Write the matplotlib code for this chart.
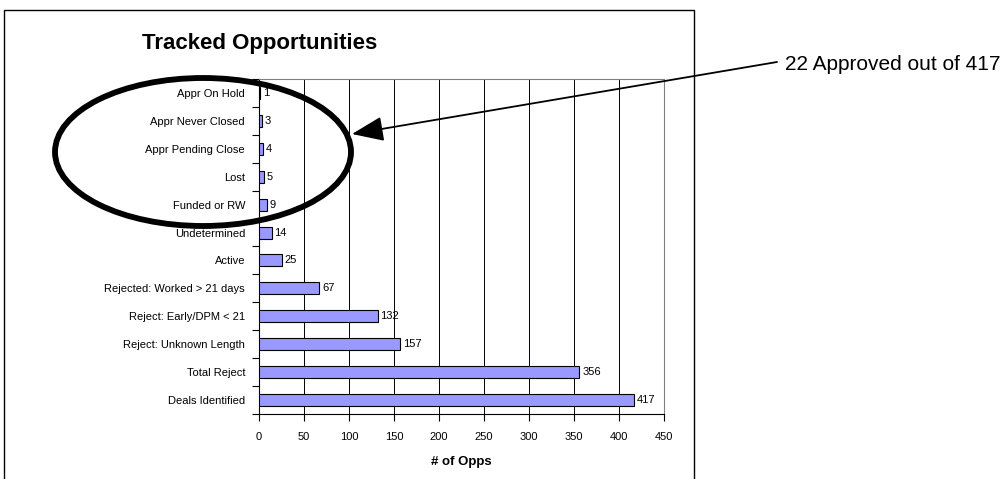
import matplotlib
matplotlib.use("Agg")
import matplotlib.pyplot as plt
from matplotlib.patches import Ellipse, Rectangle
import numpy as np

plt.rcParams['font.family'] = ['Liberation Sans', 'DejaVu Sans']

categories = ["Deals Identified", "Total Reject", "Reject: Unknown Length",
              "Reject: Early/DPM < 21", "Rejected: Worked > 21 days", "Active",
              "Undetermined", "Funded or RW", "Lost", "Appr Pending Close",
              "Appr Never Closed", "Appr On Hold"]
values = [417, 356, 157, 132, 67, 25, 14, 9, 5, 4, 3, 1]
xticks = [0, 50, 100, 150, 200, 250, 300, 350, 400, 450]
title = "Tracked Opportunities"
xlabel = "# of Opps"
note = "22 Approved out of 417"

W, H = 1008, 479
fig = plt.figure(figsize=(W / 100, H / 100), dpi=100)

def fx(px):
    return px / W

def fy(py):
    return 1 - py / H

# chart border
fig.patches.append(Rectangle((fx(4), fy(H + 10)), fx(694) - fx(4), fy(10) - fy(H + 10),
                             transform=fig.transFigure, fill=False, edgecolor='black',
                             linewidth=1.0, zorder=0))

ax = fig.add_axes([fx(259), fy(414), fx(664) - fx(259), fy(79) - fy(414)])
y = np.arange(len(categories))
ax.barh(y, values, height=0.43, color='#9999FF', edgecolor='black', linewidth=0.8, zorder=3)
for yi, v in zip(y, values):
    ax.text(v + 3, yi, str(v), va='center', ha='left', fontsize=8, zorder=4)

ax.set_xlim(0, 450)
ax.set_ylim(-0.5, len(categories) - 0.5)
ax.set_xticks(xticks)
ax.set_xticklabels([str(t) for t in xticks], fontsize=8)
ax.set_yticks(np.arange(len(categories) + 1) - 0.5)
ax.set_yticklabels([])
ax.set_yticks(y, minor=True)
ax.set_yticklabels(categories, minor=True, fontsize=8)
ax.tick_params(axis='y', which='major', direction='out', length=5, width=0.8, color='black')
ax.tick_params(axis='y', which='minor', length=0, pad=10)
ax.tick_params(axis='x', direction='out', length=5, width=0.8, pad=8)
ax.xaxis.grid(True, color='black', linewidth=0.7, zorder=0)
ax.set_axisbelow(True)
for s in ['top', 'right']:
    ax.spines[s].set_color('#808080')
    ax.spines[s].set_linewidth(0.8)
for s in ['left', 'bottom']:
    ax.spines[s].set_color('black')
    ax.spines[s].set_linewidth(0.8)
ax.set_xlabel(xlabel, fontsize=9.5, fontweight='bold', labelpad=10)

fig.text(fx(260), fy(43), title, ha='center', va='center', fontsize=16, fontweight='bold')
fig.text(fx(785), fy(64), note, ha='left', va='center', fontsize=15)

# ellipse highlight
fig.patches.append(Ellipse((fx(203), fy(152)), fx(296), 148 / H, transform=fig.transFigure,
                           fill=False, edgecolor='black', linewidth=4.2, zorder=5))

# arrow
fig.add_artist(matplotlib.patches.FancyArrowPatch((fx(777), fy(62)), (fx(352), fy(134)),
                                                  transform=fig.transFigure,
                                                  arrowstyle='-|>,head_length=1.4,head_width=0.55',
                                                  mutation_scale=14, color='black', linewidth=1.3,
                                                  shrinkA=0, shrinkB=0, zorder=6))

fig.savefig("out.png", dpi=100)
